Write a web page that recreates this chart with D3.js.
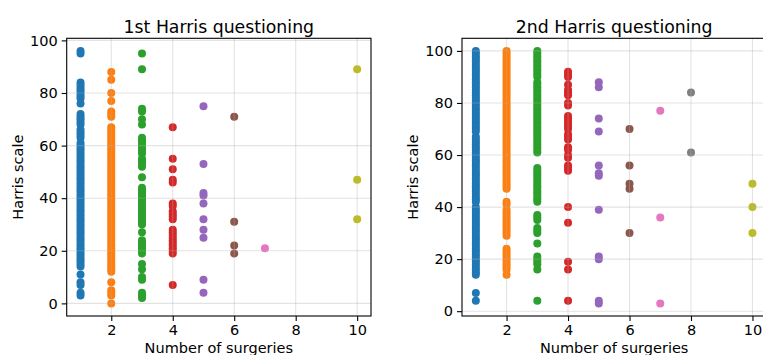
<!DOCTYPE html>
<html>
<head>
<meta charset="utf-8">
<script src="https://cdn.jsdelivr.net/npm/d3@7"></script>
<style>
  html, body { margin: 0; padding: 0; background: #fff; }
  svg { display: block; }
  text { font-family: "DejaVu Sans", sans-serif; fill: #000; }
</style>
</head>
<body>
<svg id="chart" width="763" height="355"></svg>
<script>
// ---------------- DATA ----------------
const categories = [1, 2, 3, 4, 5, 6, 7, 8, 10];
const categoryColors = ["#1f77b4", "#ff7f0e", "#2ca02c", "#d62728", "#9467bd", "#8c564b", "#e377c2", "#7f7f7f", "#bcbd22"];
const xTickLabels = [2, 4, 6, 8, 10];
const yTickLabels = [0, 20, 40, 60, 80, 100];
const panelTitles = ["1st Harris questioning", "2nd Harris questioning"];
const xAxisLabel = "Number of surgeries";
const yAxisLabel = "Harris scale";

// 1st Harris questioning: Harris scale values for each number of surgeries
const first_1 = [96, 95, 84, 83, 82, 81, 80, 79, 78, 76, 72, 71, 70, 69, 68, 66, 65, 64, 63, 61, 60, 59, 58, 57, 56, 55, 54, 53, 52, 51, 50, 49, 48, 47, 46, 45, 44, 43, 42, 41, 40, 39, 38, 37, 36, 35, 34, 33, 32, 31, 30, 29, 28, 27, 26, 25, 24, 23, 22, 21, 20, 19, 18, 17, 16, 15, 14, 11, 8, 7, 4, 3];
const first_2 = [88, 85, 80, 77, 73, 72, 71, 67, 66, 65, 64, 63, 62, 61, 60, 59, 58, 57, 56, 55, 54, 53, 52, 51, 50, 49, 48, 47, 46, 45, 44, 43, 42, 41, 40, 39, 38, 37, 36, 35, 34, 33, 32, 31, 30, 29, 28, 27, 26, 25, 24, 23, 22, 21, 20, 19, 18, 17, 16, 15, 14, 13, 12, 8, 5, 4, 3, 0];
const first_3 = [95, 89, 74, 73, 70, 68, 63, 62, 61, 60, 59, 58, 57, 55, 54, 53, 52, 48, 44, 43, 42, 41, 40, 39, 38, 37, 36, 35, 34, 33, 32, 31, 30, 27, 24, 23, 22, 21, 20, 19, 15, 13, 10, 9, 4, 3, 2];
const first_4 = [67, 55, 51, 47, 46, 38, 37, 35, 34, 33, 32, 28, 27, 26, 25, 24, 23, 22, 21, 20, 19, 7];
const first_5 = [75, 53, 42, 41, 38, 32, 28, 25, 9, 4];
const first_6 = [71, 31, 22, 19];
const first_7 = [21];
const first_8 = [];
const first_10 = [89, 47, 32];

// 2nd Harris questioning
const second_1 = [100, 99, 98, 97, 96, 95, 94, 93, 92, 91, 90, 89, 88, 87, 86, 85, 84, 83, 82, 81, 80, 79, 78, 77, 76, 75, 74, 73, 72, 71, 70, 69, 67, 66, 65, 64, 63, 62, 61, 60, 59, 58, 57, 56, 55, 54, 53, 52, 51, 50, 49, 48, 47, 46, 45, 44, 43, 42, 40, 39, 38, 37, 36, 35, 34, 33, 32, 31, 30, 29, 28, 27, 26, 25, 24, 23, 22, 21, 20, 19, 18, 17, 16, 15, 14, 7, 4];
const second_2 = [100, 99, 98, 97, 96, 95, 94, 93, 92, 91, 90, 89, 88, 87, 86, 85, 84, 83, 82, 81, 80, 79, 78, 77, 76, 75, 74, 73, 72, 71, 70, 69, 68, 67, 66, 65, 64, 63, 62, 61, 60, 59, 58, 57, 56, 55, 54, 53, 52, 51, 50, 49, 48, 47, 42, 41, 39, 38, 37, 36, 35, 34, 33, 32, 31, 30, 29, 24, 23, 22, 21, 20, 19, 18, 17, 16, 14];
const second_3 = [100, 99, 98, 97, 96, 95, 94, 93, 92, 91, 90, 88, 87, 86, 85, 84, 83, 82, 81, 80, 79, 78, 77, 76, 75, 74, 73, 72, 71, 70, 69, 68, 67, 66, 65, 64, 63, 62, 61, 55, 54, 53, 52, 51, 50, 49, 48, 47, 46, 45, 44, 43, 42, 37, 36, 35, 32, 31, 30, 26, 21, 20, 19, 18, 16, 4];
const second_4 = [92, 91, 90, 87, 85, 84, 83, 80, 79, 75, 74, 73, 72, 71, 70, 68, 67, 66, 63, 62, 60, 59, 56, 55, 54, 40, 34, 19, 16, 4];
const second_5 = [88, 86, 74, 69, 56, 53, 52, 39, 21, 20, 4, 3];
const second_6 = [70, 56, 49, 47, 30];
const second_7 = [77, 36, 3];
const second_8 = [84, 61];
const second_10 = [49, 40, 30];

const firstSeries = [first_1, first_2, first_3, first_4, first_5, first_6, first_7, first_8, first_10];
const secondSeries = [second_1, second_2, second_3, second_4, second_5, second_6, second_7, second_8, second_10];

// ---------------- DRAW ----------------
const svg = d3.select("#chart");
const FONT_TICK = 14.5, FONT_TITLE = 17.3, FONT_LABEL = 14.5;

const panels = [
  { series: firstSeries, title: panelTitles[0], left: 66.7, right: 371, top: 38.3, bottom: 316 },
  { series: secondSeries, title: panelTitles[1], left: 462, right: 766.3, top: 38.3, bottom: 316 }
];

function mplExtent(lo, hi) {
  const m = (hi - lo) * 0.05;
  return [lo - m, hi + m];
}

panels.forEach(p => {
  const allVals = p.series.flat();
  const x = d3.scaleLinear().domain(mplExtent(d3.min(categories), d3.max(categories))).range([p.left, p.right]);
  const y = d3.scaleLinear().domain(mplExtent(d3.min(allVals), d3.max(allVals))).range([p.bottom, p.top]);

  const g = svg.append("g");

  // points
  const pts = [];
  p.series.forEach((vals, i) => vals.forEach(v => pts.push({ c: categories[i], v, color: categoryColors[i] })));
  g.append("g").selectAll("circle").data(pts).join("circle")
    .attr("cx", d => x(d.c)).attr("cy", d => y(d.v)).attr("r", 4)
    .attr("fill", d => d.color);

  // grid (drawn above points as in the reference)
  const grid = g.append("g").attr("stroke", "#b0b0b0").attr("stroke-opacity", 0.35).attr("stroke-width", 1.1);
  grid.selectAll("line.gx").data(xTickLabels).join("line").attr("class", "gx")
    .attr("x1", d => x(d)).attr("x2", d => x(d)).attr("y1", p.top).attr("y2", p.bottom);
  grid.selectAll("line.gy").data(yTickLabels).join("line").attr("class", "gy")
    .attr("y1", d => y(d)).attr("y2", d => y(d)).attr("x1", p.left).attr("x2", p.right);

  // axes
  const xAxis = d3.axisBottom(x).tickValues(xTickLabels).tickSize(5).tickPadding(3).tickSizeOuter(0);
  const yAxis = d3.axisLeft(y).tickValues(yTickLabels).tickSize(5).tickPadding(4).tickSizeOuter(0);
  const gx = g.append("g").attr("transform", `translate(0,${p.bottom})`).call(xAxis);
  const gy = g.append("g").attr("transform", `translate(${p.left},0)`).call(yAxis);
  [gx, gy].forEach(a => {
    a.select(".domain").remove();
    a.selectAll("line").attr("stroke", "#000").attr("stroke-width", 1.1);
    a.selectAll("text").attr("font-family", "DejaVu Sans").attr("font-size", FONT_TICK).attr("fill", "#000");
  });
  gx.selectAll("text").attr("dy", "0.76em");

  // frame
  g.append("rect").attr("x", p.left).attr("y", p.top)
    .attr("width", p.right - p.left).attr("height", p.bottom - p.top)
    .attr("fill", "none").attr("stroke", "#000").attr("stroke-width", 1.1);

  // title
  g.append("text").attr("x", (p.left + p.right) / 2).attr("y", 32.7)
    .attr("text-anchor", "middle").attr("font-size", FONT_TITLE).text(p.title);

  // x label
  g.append("text").attr("x", (p.left + p.right) / 2).attr("y", 353)
    .attr("text-anchor", "middle").attr("font-size", FONT_LABEL).text(xAxisLabel);

  // y label
  const ly = (p.top + p.bottom) / 2;
  const lx = p.left - 44;
  g.append("text").attr("transform", `translate(${lx},${ly}) rotate(-90)`)
    .attr("text-anchor", "middle").attr("font-size", FONT_LABEL).text(yAxisLabel);
});
</script>
</body>
</html>
